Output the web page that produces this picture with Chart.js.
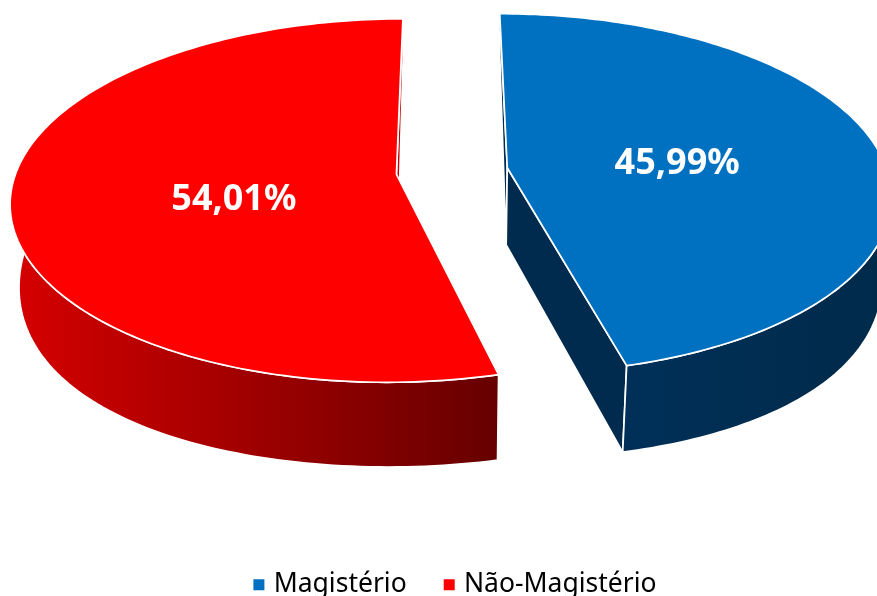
<!DOCTYPE html>
<html><head><meta charset="utf-8">
<style>html,body{margin:0;padding:0;background:#fff;overflow:hidden;width:877px;height:596px}canvas{display:block}</style>
<script src="https://cdn.jsdelivr.net/npm/chart.js@4/dist/chart.umd.js"></script>
</head><body><canvas id="c" width="877" height="608"></canvas>
<script>
const categories = ['Magistério', 'Não-Magistério'];
const shares = [45.99, 54.01];
const topColors = ['#0070C0', '#FF0000'];
const wallColors = ['#002B4F', '#C00000'];
const sideFrom = ['#003360', '#D60000'];
const sideTo = ['#002A4A', '#660000'];
const labelRadius = [0.605, 0.575];
const labelDepth = [0.08, 0.2];

const view = {cx: 452, cy: 171, a: 380, b: 177, k: 0.144, m: 0.02, lowCy: 249, lowB: 214, explode: 0.147};
function project(u, v, z) {
  const w = 1 - view.k * v;
  const yTop = view.cy + view.b * v / w;
  const yLow = view.lowCy + view.lowB * v;
  return [view.cx + view.a * u / (w + view.m * z), yTop + (yLow - yTop) * z];
}
function trace(ctx, pts) {
  ctx.beginPath();
  pts.forEach((p, i) => i ? ctx.lineTo(p[0], p[1]) : ctx.moveTo(p[0], p[1]));
  ctx.closePath();
}
function paint(ctx, pts, fill) {
  trace(ctx, pts);
  ctx.fillStyle = fill; ctx.fill();
  ctx.strokeStyle = '#fff'; ctx.lineWidth = 1.7; ctx.lineJoin = 'round'; ctx.stroke();
}
const solid3d = {
  id: 'solid3d',
  beforeDatasetsDraw(chart) {
    const ctx = chart.ctx;
    const arcs = chart.getDatasetMeta(0).data;
    ctx.save();
    arcs.forEach((el, i) => {
      const s = el.startAngle, e = el.endAngle, mid = (s + e) / 2;
      const ox = view.explode * Math.cos(mid), oy = view.explode * Math.sin(mid);
      const at = (ang, z) => project(ox + Math.cos(ang), oy + Math.sin(ang), z);
      const rim = z => { const r = []; for (let n = 0; n <= 160; n++) r.push(at(s + (e - s) * n / 160, z)); return r; };
      const apex = z => project(ox, oy, z);
      [s, e].forEach(ang => {
        paint(ctx, [apex(0), at(ang, 0), at(ang, 1), apex(1)], wallColors[i]);
      });
      const topRim = rim(0);
      const lowRim = rim(1);
      const tipX = at(s, 0)[0];
      const g = ctx.createLinearGradient(i ? 11 : tipX, 0, i ? tipX : 877, 0);
      g.addColorStop(0, sideFrom[i]); g.addColorStop(1, sideTo[i]);
      paint(ctx, topRim.concat(lowRim.slice().reverse()), g);
      paint(ctx, [apex(0)].concat(topRim), topColors[i]);
    });
    arcs.forEach((el, i) => {
      const mid = (el.startAngle + el.endAngle) / 2;
      const p = project(labelRadius[i] * Math.cos(mid), labelRadius[i] * Math.sin(mid), labelDepth[i]);
      ctx.fillStyle = '#fff';
      ctx.font = 'bold 36px "Noto Sans"';
      ctx.textAlign = 'center'; ctx.textBaseline = 'middle';
      ctx.fillText(shares[i].toFixed(2).replace('.', ',') + '%', p[0], p[1]);
    });
    ctx.restore();
    return false;
  }
};
new Chart(document.getElementById('c'), {
  type: 'pie',
  data: {labels: categories, datasets: [{data: shares, backgroundColor: topColors, borderWidth: 0}]},
  options: {
    responsive: false, animation: false, rotation: -0.1,
    layout: {padding: {left: 37}},
    plugins: {
      tooltip: {enabled: false},
      legend: {position: 'bottom', labels: {
        usePointStyle: true, pointStyle: 'rect', boxWidth: 3, boxHeight: 11, padding: 41,
        color: '#000', font: {family: '"Noto Sans"', size: 26.5}
      }}
    }
  },
  plugins: [solid3d]
});
</script></body></html>
